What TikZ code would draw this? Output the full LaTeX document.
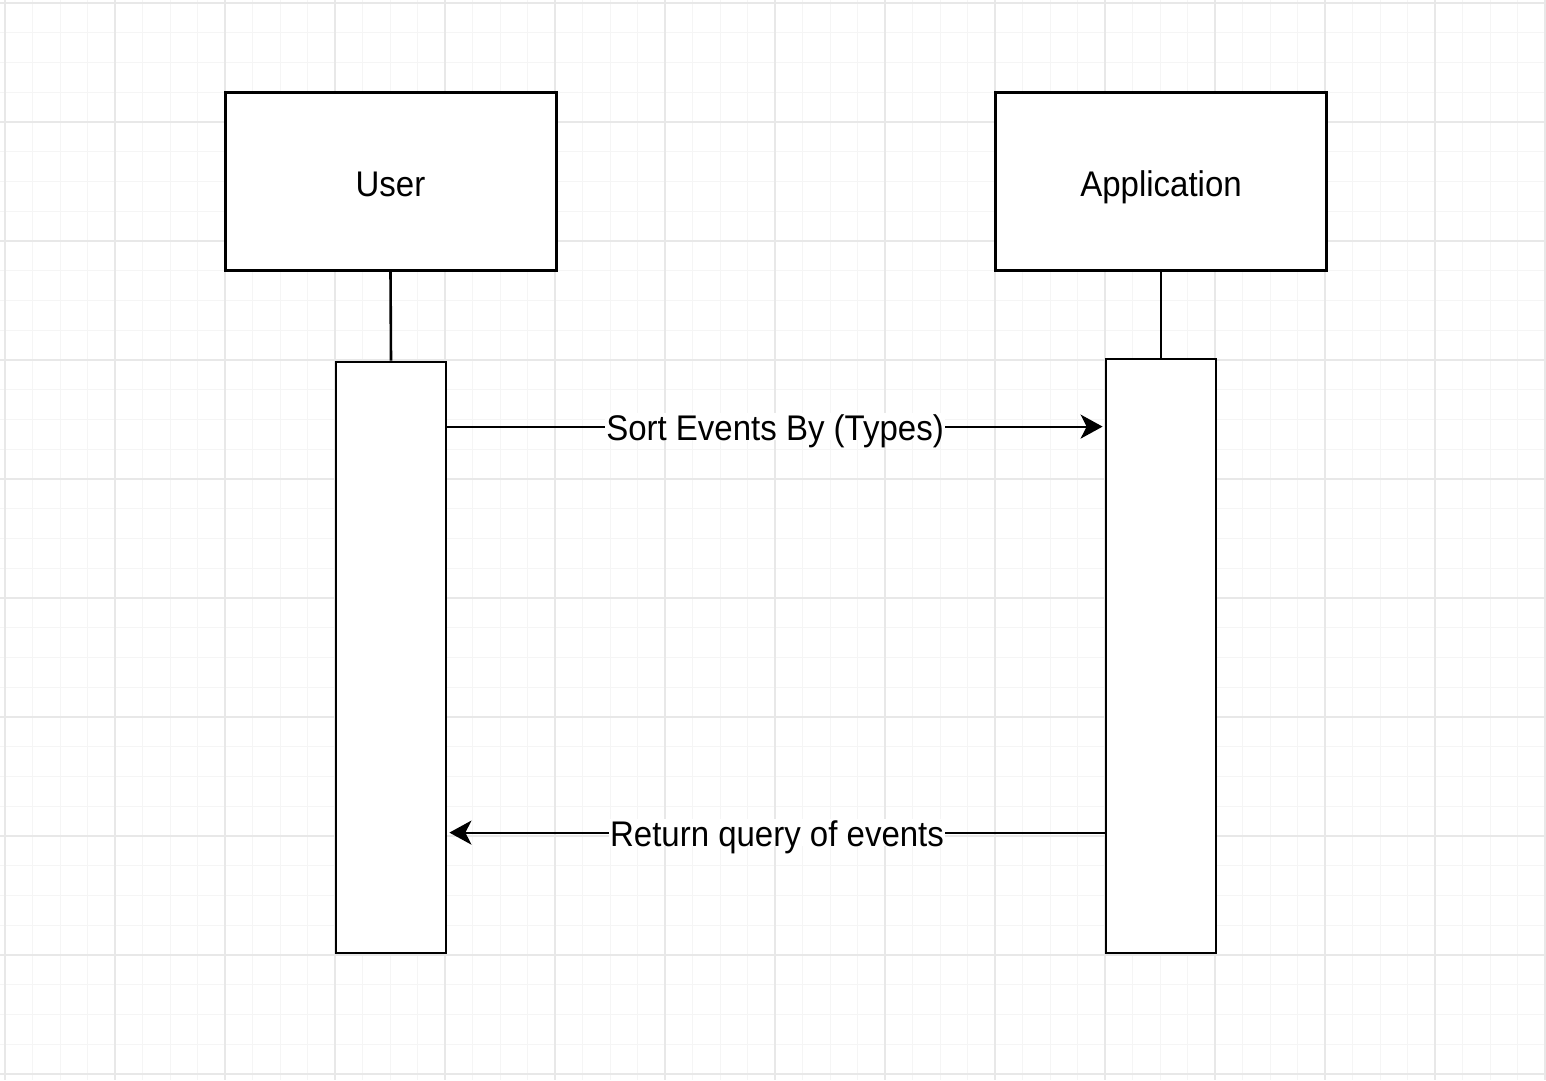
\documentclass[tikz,border=0pt]{standalone}
\usepackage{fontspec}
\setmainfont{Liberation Sans}
\usetikzlibrary{arrows.meta}
\newcommand{\tallt}[1]{\scalebox{1}[1.08]{#1}}
\begin{document}
\begin{tikzpicture}[x=1pt,y=-1pt,
  actor/.style={draw=black,line width=3pt,fill=white,minimum width=331pt,minimum height=178pt,inner sep=0pt},
  actortext/.style={inner sep=0pt,text height=30pt,text depth=0pt,font=\fontsize{33}{40}\selectfont},
  activ/.style={draw=black,line width=2.8pt,fill=white,minimum width=110pt,inner sep=0pt},
  life/.style={draw=black,line width=2.6pt},
  msg/.style={draw=black,line width=2pt,-{Stealth[length=22pt,width=24pt,inset=6pt]}},
  msglabel/.style={fill=white,inner xsep=1pt,inner ysep=0pt,text height=27pt,text depth=0pt,font=\fontsize{33}{40}\selectfont},
  minorgrid/.style={draw=black!4,line width=1pt},
  majorgrid/.style={draw=black!9,line width=1.4pt}]
\useasboundingbox (0,0) rectangle (1546,1080);
\fill[white] (0,0) rectangle (1546,1080);
% grid
\foreach \i in {0,...,56} {
  \pgfmathsetmacro{\xx}{5+27.5*\i}
  \draw[minorgrid] (\xx,0) -- (\xx,1080);
}
\foreach \i in {0,...,36} {
  \pgfmathsetmacro{\yy}{3+29.75*\i}
  \draw[minorgrid] (0,\yy) -- (1546,\yy);
}
\foreach \i in {0,...,14} {
  \pgfmathsetmacro{\xx}{5+110*\i}
  \draw[majorgrid] (\xx,0) -- (\xx,1080);
}
\foreach \i in {0,...,9} {
  \pgfmathsetmacro{\yy}{3+119*\i}
  \draw[majorgrid] (0,\yy) -- (1546,\yy);
}
% actors
\node[actor] (user) at (390.5,181) {};
\node[actortext] (usert) at (user.center) {\tallt{User}};
\node[actor] (app) at (1161,181) {};
\node[actortext] (appt) at (app.center) {\tallt{Application}};
% activations
\node[activ,minimum height=591pt] (ua) at (391,657.5) {};
\node[activ,minimum height=594pt] (aa) at (1161,656) {};
% lifelines
\draw[life] (user.south) -- (ua.north);
\draw[life] (app.south) -- (aa.north);
% messages
\coordinate (m1s) at ([yshift=-66pt]ua.north east);
\coordinate (m1e) at (aa.west |- m1s);
\draw[msg] (m1s) -- node[msglabel] {\tallt{Sort Events By (Types)}} ([xshift=-2pt]m1e);
\coordinate (m2s) at ([yshift=-475pt]aa.north west);
\coordinate (m2e) at (ua.east |- m2s);
\draw[msg] (m2s) -- node[msglabel] {\tallt{Return query of events}} ([xshift=2pt]m2e);
\end{tikzpicture}
\end{document}
